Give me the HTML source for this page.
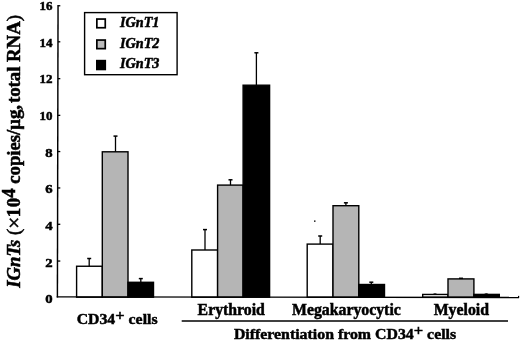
<!DOCTYPE html>
<html><head><meta charset="utf-8"><style>
html,body{margin:0;padding:0;background:#fff;}
svg{display:block;}
text{font-family:"Liberation Serif","Times New Roman",serif;font-weight:bold;fill:#000;stroke:#000;stroke-width:0.5px;}
</style></head><body>
<svg width="520" height="341" viewBox="0 0 520 341">
<rect width="520" height="341" fill="#fff"/>
<g font-size="13.4">
<text x="52.6" y="303.10" text-anchor="end" transform="translate(52.6,0) scale(1.1,1) translate(-52.6,0)">0</text>
<text x="52.6" y="266.60" text-anchor="end" transform="translate(52.6,0) scale(1.1,1) translate(-52.6,0)">2</text>
<text x="52.6" y="230.15" text-anchor="end" transform="translate(52.6,0) scale(1.1,1) translate(-52.6,0)">4</text>
<text x="52.6" y="193.25" text-anchor="end" transform="translate(52.6,0) scale(1.1,1) translate(-52.6,0)">6</text>
<text x="52.6" y="157.00" text-anchor="end" transform="translate(52.6,0) scale(1.1,1) translate(-52.6,0)">8</text>
<text x="52.6" y="120.40" text-anchor="end" transform="translate(52,0) scale(0.97,1) translate(-52,0)">10</text>
<text x="52.6" y="83.45" text-anchor="end" transform="translate(52,0) scale(0.97,1) translate(-52,0)">12</text>
<text x="52.6" y="46.70" text-anchor="end" transform="translate(52,0) scale(0.97,1) translate(-52,0)">14</text>
<text x="52.6" y="10.10" text-anchor="end" transform="translate(52,0) scale(0.97,1) translate(-52,0)">16</text>
</g>
<line x1="57.48" y1="261.05" x2="60.3" y2="261.05" stroke="#000" stroke-width="1.3"/>
<line x1="57.56" y1="224.30" x2="60.3" y2="224.30" stroke="#000" stroke-width="1.3"/>
<line x1="57.64" y1="187.95" x2="60.3" y2="187.95" stroke="#000" stroke-width="1.3"/>
<line x1="57.72" y1="151.55" x2="60.3" y2="151.55" stroke="#000" stroke-width="1.3"/>
<line x1="57.80" y1="115.35" x2="60.3" y2="115.35" stroke="#000" stroke-width="1.3"/>
<line x1="57.89" y1="78.65" x2="60.3" y2="78.65" stroke="#000" stroke-width="1.3"/>
<line x1="57.97" y1="41.80" x2="60.3" y2="41.80" stroke="#000" stroke-width="1.3"/>
<line x1="58.05" y1="5.75" x2="60.3" y2="5.75" stroke="#000" stroke-width="1.3"/>
<rect x="76.60" y="266.25" width="25.70" height="30.95" fill="#fff" stroke="#000" stroke-width="1.4"/>
<line x1="89.20" y1="266.25" x2="89.20" y2="258.50" stroke="#000" stroke-width="1.3"/>
<line x1="87.20" y1="258.50" x2="91.20" y2="258.50" stroke="#000" stroke-width="1.5"/>
<rect x="102.30" y="151.80" width="25.70" height="145.40" fill="#b5b5b5" stroke="#000" stroke-width="1.4"/>
<line x1="115.50" y1="151.80" x2="115.50" y2="136.10" stroke="#000" stroke-width="1.3"/>
<line x1="113.50" y1="136.10" x2="117.50" y2="136.10" stroke="#000" stroke-width="1.5"/>
<rect x="128.00" y="282.30" width="25.50" height="14.90" fill="#000" stroke="#000" stroke-width="1.4"/>
<line x1="140.80" y1="282.30" x2="140.80" y2="278.60" stroke="#000" stroke-width="1.3"/>
<line x1="138.80" y1="278.60" x2="142.80" y2="278.60" stroke="#000" stroke-width="1.5"/>
<rect x="191.80" y="250.00" width="25.80" height="47.20" fill="#fff" stroke="#000" stroke-width="1.4"/>
<line x1="205.00" y1="250.00" x2="205.00" y2="229.60" stroke="#000" stroke-width="1.3"/>
<line x1="203.00" y1="229.60" x2="207.00" y2="229.60" stroke="#000" stroke-width="1.5"/>
<rect x="217.60" y="185.10" width="25.50" height="112.10" fill="#b5b5b5" stroke="#000" stroke-width="1.4"/>
<line x1="230.50" y1="185.10" x2="230.50" y2="179.80" stroke="#000" stroke-width="1.3"/>
<line x1="228.50" y1="179.80" x2="232.50" y2="179.80" stroke="#000" stroke-width="1.5"/>
<rect x="243.10" y="85.20" width="26.50" height="212.00" fill="#000" stroke="#000" stroke-width="1.4"/>
<line x1="256.40" y1="85.20" x2="256.40" y2="52.80" stroke="#000" stroke-width="1.3"/>
<line x1="254.40" y1="52.80" x2="258.40" y2="52.80" stroke="#000" stroke-width="1.5"/>
<rect x="307.20" y="244.10" width="25.80" height="53.10" fill="#fff" stroke="#000" stroke-width="1.4"/>
<line x1="320.20" y1="244.10" x2="320.20" y2="236.00" stroke="#000" stroke-width="1.3"/>
<line x1="318.20" y1="236.00" x2="322.20" y2="236.00" stroke="#000" stroke-width="1.5"/>
<rect x="333.00" y="205.70" width="25.80" height="91.50" fill="#b5b5b5" stroke="#000" stroke-width="1.4"/>
<line x1="345.90" y1="205.70" x2="345.90" y2="202.80" stroke="#000" stroke-width="1.3"/>
<line x1="343.90" y1="202.80" x2="347.90" y2="202.80" stroke="#000" stroke-width="1.5"/>
<rect x="358.80" y="284.50" width="25.70" height="12.70" fill="#000" stroke="#000" stroke-width="1.4"/>
<line x1="371.30" y1="284.50" x2="371.30" y2="282.20" stroke="#000" stroke-width="1.3"/>
<line x1="369.30" y1="282.20" x2="373.30" y2="282.20" stroke="#000" stroke-width="1.5"/>
<rect x="422.70" y="294.45" width="25.30" height="2.75" fill="#fff" stroke="#000" stroke-width="1.4"/>
<rect x="448.00" y="278.90" width="25.90" height="18.30" fill="#b5b5b5" stroke="#000" stroke-width="1.4"/>
<line x1="461.00" y1="278.90" x2="461.00" y2="278.30" stroke="#000" stroke-width="1.3"/>
<line x1="459.00" y1="278.30" x2="463.00" y2="278.30" stroke="#000" stroke-width="1.5"/>
<rect x="473.90" y="294.40" width="25.40" height="2.80" fill="#000" stroke="#000" stroke-width="1.4"/>
<line x1="58.05" y1="4.9" x2="57.4" y2="297.6" stroke="#000" stroke-width="1.45"/>
<line x1="56.7" y1="296.9" x2="519.1" y2="297.5" stroke="#000" stroke-width="1.4"/>

<rect x="314" y="220.4" width="1.5" height="1.5" fill="#222"/>
<ellipse cx="435" cy="293.6" rx="2" ry="0.45" fill="#000"/>
<rect x="518" y="295.9" width="1.2" height="1.5" fill="#000"/>
<ellipse cx="486.3" cy="293.4" rx="2" ry="0.45" fill="#000"/>
<!-- legend -->
<rect x="84.6" y="12.6" width="92.5" height="62.1" fill="#fff" stroke="#000" stroke-width="1.4"/>
<rect x="96.85" y="19.05" width="8.4" height="8.7" fill="#fff" stroke="#000" stroke-width="1.7"/>
<rect x="96.85" y="40.05" width="8.4" height="8.6" fill="#bbb" stroke="#000" stroke-width="1.7"/>
<rect x="96.85" y="60.65" width="8.4" height="8.8" fill="#000" stroke="#000" stroke-width="1.7"/>
<g font-size="14.2" font-style="italic">
<text x="120" y="26.8">IGnT1</text>
<text x="120" y="47.5">IGnT2</text>
<text x="120" y="68.2">IGnT3</text>
</g>
<!-- x labels -->
<g font-size="15.8">
<text x="76.7" y="323.9" transform="translate(0,323.9) scale(1,0.89) translate(0,-323.9)">CD34<tspan dy="-4" font-size="16.5">+</tspan><tspan dy="4"> cells</tspan></text>
<text x="197.6" y="314.6">Erythroid</text>
<text x="292" y="314.5">Megakaryocytic</text>
<text x="433.7" y="314.5">Myeloid</text>
<text x="233.9" y="338.7" font-size="15.85" transform="translate(0,338.7) scale(1,0.89) translate(0,-338.7)">Differentiation from CD34<tspan dy="-4" font-size="16.5">+</tspan><tspan dy="4"> cells</tspan></text>
</g>
<line x1="181.7" y1="320.9" x2="508" y2="320.9" stroke="#000" stroke-width="1.5"/>
<!-- y label -->
<text transform="translate(20.2,287.8) rotate(-90) scale(1.04,1)" font-size="18"><tspan font-style="italic">IGnTs</tspan> <tspan font-weight="normal">(</tspan><tspan font-weight="normal" font-size="20.5" dy="0.3">×</tspan><tspan dx="-0.7" dy="-0.3">1</tspan><tspan dx="0.8">0</tspan><tspan dy="-5.7">4</tspan><tspan dy="5.7"> copies/μg,</tspan></text>
<text transform="translate(20.2,103.1) rotate(-90) scale(1.043,1)" font-size="18">total RNA<tspan font-weight="normal">)</tspan></text>
</svg>
</body></html>
